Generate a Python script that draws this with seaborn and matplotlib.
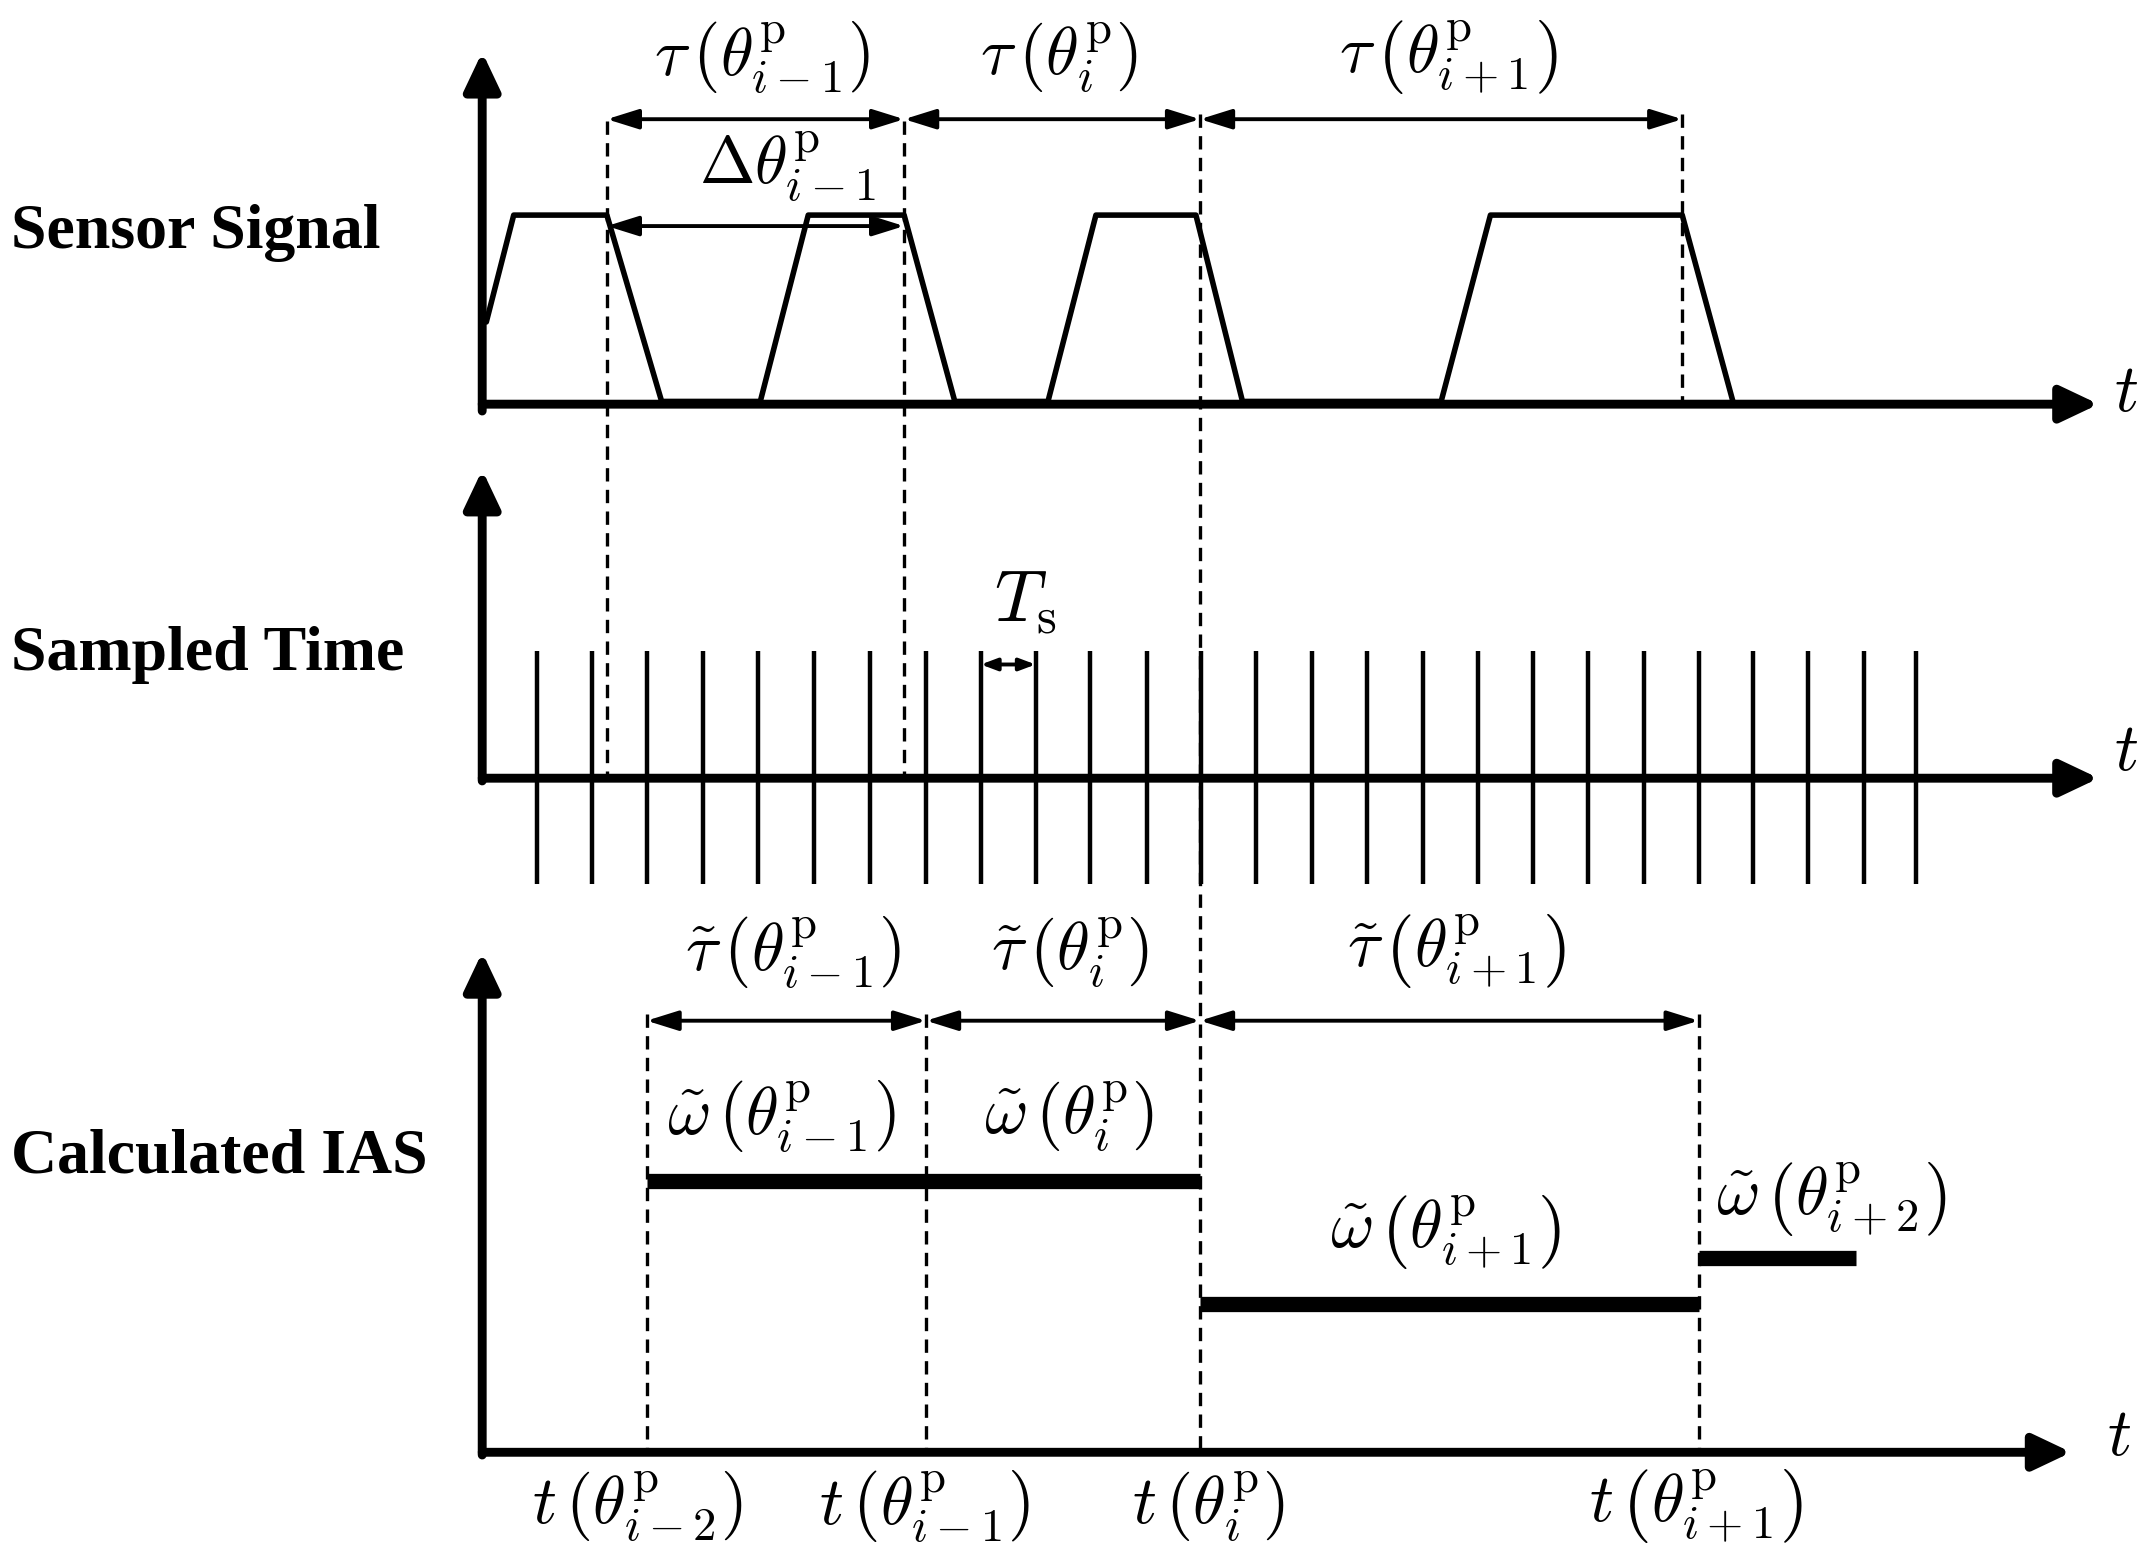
import matplotlib
matplotlib.use("Agg")
import matplotlib.pyplot as plt
import seaborn as sns
import pandas as pd

sns.set_theme(style="white")
plt.rcParams['mathtext.fontset'] = 'cm'
plt.rcParams['font.family'] = ['Liberation Serif', 'DejaVu Serif']
plt.rcParams['text.color'] = 'black'

# sensor signal path (x, y) in diagram units
sig_x = [355, 375, 443, 483, 555, 590, 660, 697, 765, 800, 873, 907, 1052, 1088, 1228, 1265]
sig_y = [235, 157, 157, 293, 293, 157, 157, 293, 293, 157, 157, 293, 293, 157, 157, 293]
# sampling instants
samp_x = [392, 432, 472, 513, 553, 594, 635, 676, 716, 756, 796, 837, 877, 917, 958,
          998, 1039, 1079, 1119, 1159, 1200, 1240, 1280, 1320, 1361, 1399]
# true pulse times
tau_edges = [443, 660, 876, 1228]
tau_labels = [r'$\tau\,\left(\theta^{\mathrm{p}}_{i-1}\right)$', r'$\tau\,\left(\theta^{\mathrm{p}}_{i}\right)$',
              r'$\tau\,\left(\theta^{\mathrm{p}}_{i+1}\right)$']
# estimated pulse times
est_edges = [472, 676, 876, 1240]
est_labels = [r'$\tilde{\tau}\,\left(\theta^{\mathrm{p}}_{i-1}\right)$', r'$\tilde{\tau}\,\left(\theta^{\mathrm{p}}_{i}\right)$',
              r'$\tilde{\tau}\,\left(\theta^{\mathrm{p}}_{i+1}\right)$']
# IAS levels
ias_x0 = [472, 876, 1240]
ias_x1 = [876, 1240, 1355]
ias_y = [862, 952, 918]
omega_labels = [r'$\tilde{\omega}\,\left(\theta^{\mathrm{p}}_{i-1}\right)$', r'$\tilde{\omega}\,\left(\theta^{\mathrm{p}}_{i}\right)$',
                r'$\tilde{\omega}\,\left(\theta^{\mathrm{p}}_{i+1}\right)$', r'$\tilde{\omega}\,\left(\theta^{\mathrm{p}}_{i+2}\right)$']
omega_pos = [(570, 815), (780, 815), (1055, 900), (1337, 875)]
t_labels = [r'$t\,\left(\theta^{\mathrm{p}}_{i-2}\right)$', r'$t\,\left(\theta^{\mathrm{p}}_{i-1}\right)$',
            r'$t\,\left(\theta^{\mathrm{p}}_{i}\right)$', r'$t\,\left(\theta^{\mathrm{p}}_{i+1}\right)$']
t_pos = [465, 675, 882, 1238]
row_labels = ["Sensor Signal", "Sampled Time", "Calculated IAS"]
row_y = [170, 478, 845]

fig = plt.figure(figsize=(10.74, 7.83), dpi=200)
ax = fig.add_axes([0, 0, 1, 1])

FS = 24

def arrow(x0, y0, x1, y1, lw=3.2):
    ax.annotate('', xy=(x1, y1), xytext=(x0, y0),
                arrowprops=dict(arrowstyle='-|>,head_width=0.45,head_length=0.95',
                                lw=lw, color='black', shrinkA=0, shrinkB=0))

def darrow(x0, x1, y, hl=0.8, hw=0.25):
    ax.annotate('', xy=(x1, y), xytext=(x0, y),
                arrowprops=dict(arrowstyle=f'<|-|>,head_width={hw},head_length={hl}', lw=1.4,
                                color='black', shrinkA=0, shrinkB=0))

# signal
sns.lineplot(data=pd.DataFrame({'x': sig_x, 'y': sig_y}), x='x', y='y', sort=False,
             estimator=None, color='black', lw=2.0, ax=ax)
ax.set_xlim(0, 1568); ax.set_ylim(1143, 0); ax.axis('off')

# axes
arrow(352, 300, 352, 38); arrow(352, 295, 1532, 295)
arrow(352, 570, 352, 343); arrow(352, 568, 1532, 568)
arrow(352, 1062, 352, 695); arrow(352, 1060, 1512, 1060)
ax.text(1552, 288, r'$t$', fontsize=FS, ha='center', va='center')
ax.text(1552, 550, r'$t$', fontsize=FS, ha='center', va='center')
ax.text(1547, 1050, r'$t$', fontsize=FS, ha='center', va='center')

# samples
ax.vlines(samp_x, 475, 645, colors='black', lw=1.6)
darrow(716, 756, 485, hl=0.4, hw=0.15)
ax.text(748, 440, r'$T_{\mathrm{s}}$', fontsize=FS + 2, ha='center', va='center')

# dashed lines
dash = dict(colors='black', lw=1.2, linestyles=(0, (4, 2.5)))
ax.vlines([443, 660], 88, 565, **dash)
ax.vlines([876], 83, 1060, **dash)
ax.vlines([1228], 83, 295, **dash)
ax.vlines([472, 676, 1240], 740, 1060, **dash)

for i in range(3):
    darrow(tau_edges[i], tau_edges[i + 1], 87)
    ax.text((tau_edges[i] + tau_edges[i + 1]) / 2 + 5, 42, tau_labels[i], fontsize=FS, ha='center', va='center')
darrow(443, 660, 165)
ax.text(575, 122, r'$\Delta\theta^{\mathrm{p}}_{i-1}$', fontsize=FS, ha='center', va='center')

for i in range(3):
    darrow(est_edges[i], est_edges[i + 1], 745)
    ax.text((est_edges[i] + est_edges[i + 1]) / 2 + 5, 695, est_labels[i], fontsize=FS, ha='center', va='center')

ax.hlines(ias_y, ias_x0, ias_x1, colors='black', lw=5.5)
for lab, (x, y) in zip(omega_labels, omega_pos):
    ax.text(x, y, lab, fontsize=FS, ha='center', va='center')
for lab, x in zip(t_labels, t_pos):
    ax.text(x, 1100, lab, fontsize=FS, ha='center', va='center')
for lab, y in zip(row_labels, row_y):
    ax.text(8, y, lab, fontsize=23, fontweight='bold', ha='left', va='center', color='black')

fig.savefig('out.png', dpi=200)
